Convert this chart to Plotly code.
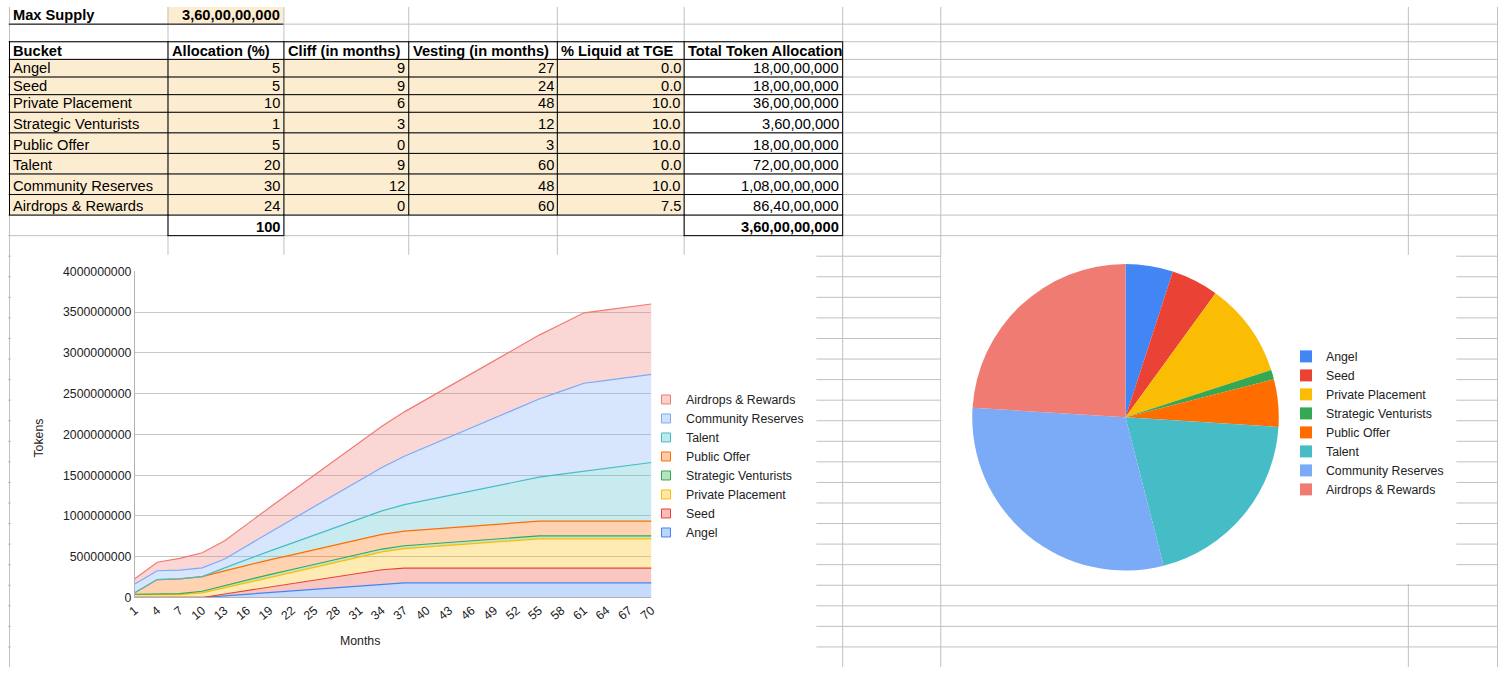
import plotly.graph_objects as go

W, H = 1504, 674

# ---------------- data ----------------
max_supply_text = "3,60,00,00,000"
header = ["Bucket", "Allocation (%)", "Cliff (in months)", "Vesting (in months)",
          "% Liquid at TGE", "Total Token Allocation"]
buckets = ["Angel", "Seed", "Private Placement", "Strategic Venturists",
           "Public Offer", "Talent", "Community Reserves", "Airdrops & Rewards"]
allocation_pct = [5, 5, 10, 1, 5, 20, 30, 24]
cliff_months = [9, 9, 6, 3, 0, 9, 12, 0]
vesting_months = [27, 24, 48, 12, 3, 60, 48, 60]
liquid_tge = ["0.0", "0.0", "10.0", "10.0", "10.0", "0.0", "10.0", "7.5"]
total_tokens = ["18,00,00,000", "18,00,00,000", "36,00,00,000", "3,60,00,000",
                "18,00,00,000", "72,00,00,000", "1,08,00,00,000", "86,40,00,000"]
total_pct_text = "100"
total_tokens_text = "3,60,00,00,000"

month_labels = ["1", "4", "7", "10", "13", "16", "19", "22", "25", "28", "31", "34",
                "37", "40", "43", "46", "49", "52", "55", "58", "61", "64", "67", "70"]

# unlocked tokens per bucket, in millions
angel_m = [0, 0, 0, 0, 20, 40, 60, 80, 100, 120, 140, 160,
           180, 180, 180, 180, 180, 180, 180, 180, 180, 180, 180, 180]
seed_m = [0, 0, 0, 0, 22.5, 45, 67.5, 90, 112.5, 135, 157.5, 180,
          180, 180, 180, 180, 180, 180, 180, 180, 180, 180, 180, 180]
private_m = [36, 36, 36, 56.25, 76.5, 96.75, 117, 137.25, 157.5, 177.75, 198, 218.25,
             238.5, 258.75, 279, 299.25, 319.5, 339.75, 360, 360, 360, 360, 360, 360]
strategic_m = [3.6, 3.6, 11.7, 19.8, 27.9, 36, 36, 36, 36, 36, 36, 36,
               36, 36, 36, 36, 36, 36, 36, 36, 36, 36, 36, 36]
public_m = [18, 180, 180, 180, 180, 180, 180, 180, 180, 180, 180, 180,
            180, 180, 180, 180, 180, 180, 180, 180, 180, 180, 180, 180]
talent_m = [0, 0, 0, 0, 36, 72, 108, 144, 180, 216, 252, 288,
            324, 360, 396, 432, 468, 504, 540, 576, 612, 648, 684, 720]
community_m = [108, 108, 108, 108, 108, 168.75, 229.5, 290.25, 351, 411.75, 472.5, 533.25,
               594, 654.75, 715.5, 776.25, 837, 897.75, 958.5, 1019.25, 1080, 1080, 1080, 1080]
airdrops_m = [64.8, 104.76, 144.72, 184.68, 224.64, 264.6, 304.56, 344.52, 384.48, 424.44, 464.4, 504.36,
              544.32, 584.28, 624.24, 664.2, 704.16, 744.12, 784.08, 824.04, 864, 864, 864, 864]
series_m = [angel_m, seed_m, private_m, strategic_m, public_m, talent_m, community_m, airdrops_m]

# ---------------- styles ----------------
colors = ["#4285F4", "#EA4335", "#FBBC04", "#34A853", "#FF6D01", "#46BDC6", "#7BAAF7", "#F07B72"]
FONT = "Liberation Sans"
GRID = "#c0c0c0"
CREAM = "#fdedd0"


def rgba(hexc, a):
    h = hexc.lstrip("#")
    return "rgba(%d,%d,%d,%s)" % (int(h[0:2], 16), int(h[2:4], 16), int(h[4:6], 16), a)


def px(x):
    return x / W


def py(y):
    return 1 - y / H


shapes = []


def hline(y, x0, x1, color):
    shapes.append(dict(type="line", xref="paper", yref="paper", layer="below",
                       x0=px(x0), x1=px(x1), y0=py(y + 0.5), y1=py(y + 0.5),
                       line=dict(color=color, width=1)))


def vline(x, y0, y1, color):
    shapes.append(dict(type="line", xref="paper", yref="paper", layer="below",
                       x0=px(x + 0.5), x1=px(x + 0.5), y0=py(y0), y1=py(y1),
                       line=dict(color=color, width=1)))


def rect(x0, y0, x1, y1, fill):
    shapes.append(dict(type="rect", xref="paper", yref="paper", layer="below",
                       x0=px(x0), x1=px(x1), y0=py(y1), y1=py(y0),
                       fillcolor=fill, line=dict(width=0)))


# sheet geometry
col_edges = [1, 161, 278, 404, 554, 682, 842]
sheet_cols = col_edges + [941, 1413, 1503]
top_rows = [0, 17, 35, 53, 71, 89, 107, 128, 149, 170, 191, 212, 233]
low_rows = [254 + 21 * k for k in range(20)]

# cell fills
rect(161, 0, 278, 17, CREAM)
rect(1, 53, 682, 212, CREAM)
# grey sheet grid
for x in sheet_cols:
    vline(x, 0, H, GRID)
for y in top_rows[1:] + low_rows:
    hline(y, 0, W, GRID)
# chart boxes
rect(3, 253, 816, H, "white")
rect(942, 253, 1462, 589, "white")
# black borders
hline(17, 1, 278, "black")
for y in top_rows[2:12]:
    hline(y, 1, 842, "black")
for x in col_edges:
    vline(x, 35, 212.5, "black")
for (x0, x1) in [(161, 278), (682, 842)]:
    hline(233, x0, x1, "black")
    vline(x0, 212, 234, "black")
    vline(x1, 212, 234, "black")

# table text
ann = []


def cell_text(text, col, row_top, row_bot, align="left", bold=False):
    x0, x1 = col_edges[col], col_edges[col + 1]
    t = "<b>%s</b>" % text if bold else text
    ann.append(dict(xref="paper", yref="paper", showarrow=False,
                    x=px(x0 + 2.5) if align == "left" else px(x1 - 1),
                    xanchor=align, y=py(row_bot - 8.5), yanchor="middle",
                    text=t, font=dict(family=FONT, size=14.67, color="black")))


cell_text("Max Supply", 0, 0, 17, "left", True)
cell_text(max_supply_text, 1, 0, 17, "right", True)
for c, h in enumerate(header):
    cell_text(h, c, 35, 53, "left", True)
for r, name in enumerate(buckets):
    t, b = top_rows[3 + r], top_rows[4 + r]
    cell_text(name, 0, t, b, "left")
    cell_text(str(allocation_pct[r]), 1, t, b, "right")
    cell_text(str(cliff_months[r]), 2, t, b, "right")
    cell_text(str(vesting_months[r]), 3, t, b, "right")
    cell_text(liquid_tge[r], 4, t, b, "right")
    cell_text(total_tokens[r], 5, t, b, "right")
cell_text(total_pct_text, 1, 212, 233, "right", True)
cell_text(total_tokens_text, 5, 212, 233, "right", True)

# chart axis titles
ann.append(dict(xref="paper", yref="paper", showarrow=False, x=px(31), y=py(440),
                xanchor="center", yanchor="middle",
                text="Tokens", textangle=-90, font=dict(family=FONT, size=12.3, color="#222")))
ann.append(dict(xref="paper", yref="paper", showarrow=False, x=px(355), y=py(647),
                xanchor="center", yanchor="middle",
                text="Months", font=dict(family=FONT, size=12.3, color="#222")))

fig = go.Figure()

for i, name in enumerate(buckets):
    fig.add_trace(go.Scatter(
        x=month_labels, y=[v * 1e6 for v in series_m[i]], name=name,
        stackgroup="one", mode="lines",
        line=dict(color=colors[i], width=1.2), fillcolor=rgba(colors[i], 0.3),
        showlegend=False, hoverinfo="skip"))

# legend entries for the area chart (top to bottom)
for i in reversed(range(len(buckets))):
    fig.add_trace(go.Scatter(
        x=[None], y=[None], name=buckets[i], mode="markers",
        marker=dict(symbol="square", size=9, color=rgba(colors[i], 0.35),
                    line=dict(color=colors[i], width=1)),
        legend="legend", showlegend=True, hoverinfo="skip"))

cx, cy, r = 1128, 419, 156.5
fig.add_trace(go.Pie(
    labels=buckets, values=allocation_pct, sort=False, direction="clockwise",
    rotation=0, textinfo="none", hoverinfo="skip",
    marker=dict(colors=colors, line=dict(color="white", width=0)),
    domain=dict(x=[px(cx - r), px(cx + r)], y=[py(cy + r), py(cy - r)]),
    legend="legend2", showlegend=True))

fig.update_layout(
    width=W, height=H, autosize=False,
    margin=dict(l=0, r=0, t=0, b=0, pad=0),
    paper_bgcolor="white", plot_bgcolor="rgba(0,0,0,0)",
    font=dict(family=FONT, size=12.3, color="#222"),
    hovermode=False,
    shapes=shapes, annotations=ann,
    xaxis=dict(domain=[px(128), px(649.5)], type="category", range=[0, 23],
               tickangle=-40, tickfont=dict(size=12.3, color="#222"),
               showgrid=False, showline=True, linecolor="#b3b3b3", ticks="",
               zeroline=False, fixedrange=True),
    yaxis=dict(domain=[py(603), py(270)], range=[0, 4e9], dtick=5e8, tickformat="d",
               tickfont=dict(size=12.3, color="#222"),
               showgrid=True, gridcolor="#c8c8c8", gridwidth=1,
               showline=True, linecolor="#b3b3b3", ticks="", zeroline=False,
               fixedrange=True),
    legend=dict(x=px(644), y=py(386), xanchor="left", yanchor="top",
                traceorder="normal",
                bgcolor="rgba(0,0,0,0)", font=dict(size=12.3, color="#222"),
                tracegroupgap=0, itemclick=False, itemdoubleclick=False),
    legend2=dict(x=px(1290), y=py(342), xanchor="left", yanchor="top",
                 traceorder="normal",
                 bgcolor="rgba(0,0,0,0)", font=dict(size=12.3, color="#222"),
                 tracegroupgap=0, itemclick=False, itemdoubleclick=False),
)

fig.write_html("out.html")
